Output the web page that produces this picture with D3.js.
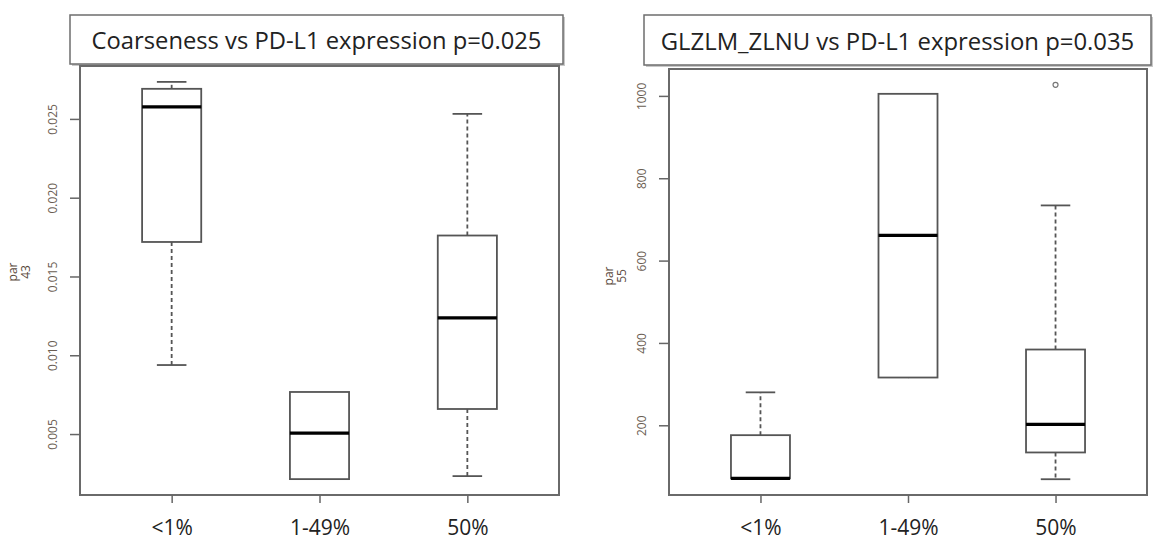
<!DOCTYPE html>
<html lang="en">
<head>
  <meta charset="utf-8">
  <title>PD-L1 boxplots</title>
  <script src="https://d3js.org/d3.v7.min.js"></script>
  <style>
    body { margin: 0; background: #fff; }
    svg { display: block; }
  </style>
</head>
<body>
<script>
// groups along the x axis
var categories = ["<1%", "1-49%", "50%"];

// box stats per group: [lower whisker, Q1, median, Q3, upper whisker]
var coarseStats = [
  [0.00938, 0.01719, 0.02576, 0.02691, 0.02735],
  [0.00214, 0.00214, 0.00506, 0.00767, 0.00767],
  [0.00233, 0.00659, 0.01237, 0.01760, 0.02532]
];
var coarseOutliers = [[], [], []];
var coarseTicks = [0.005, 0.010, 0.015, 0.020, 0.025];

var zlnuStats = [
  [71, 71, 71, 176, 280],
  [316, 316, 661, 1005, 1005],
  [69, 134, 202, 384, 734]
];
var zlnuOutliers = [[], [], [1027]];
var zlnuTicks = [200, 400, 600, 800, 1000];

var svg = d3.select("body").append("svg")
  .attr("width", 1159)
  .attr("height", 544);

function drawPanel(opt) {
  var g = svg.append("g");

  // R style range: data extent padded 4% each side
  var all = [];
  opt.stats.forEach(function(s, i) { all = all.concat(s, opt.outliers[i]); });
  var lo = d3.min(all), hi = d3.max(all), pad = (hi - lo) * 0.04;

  var y = d3.scaleLinear().domain([lo - pad, hi + pad]).range([opt.bottom, opt.top]);
  var x = d3.scaleLinear().domain([0.38, 3.62]).range([opt.left, opt.right]);
  var bw = x(1.4) - x(1);

  // title box with a light shadow
  g.append("rect")
    .attr("x", opt.tbox[0] + 2).attr("y", opt.tbox[1] + 2)
    .attr("width", opt.tbox[2] - opt.tbox[0]).attr("height", opt.tbox[3] - opt.tbox[1])
    .attr("fill", "#c8c8c8");
  g.append("rect")
    .attr("x", opt.tbox[0]).attr("y", opt.tbox[1])
    .attr("width", opt.tbox[2] - opt.tbox[0]).attr("height", opt.tbox[3] - opt.tbox[1])
    .attr("fill", "#fff").attr("stroke", "#6e6e6e").attr("stroke-width", 1.5);
  var title = g.append("text")
    .attr("x", (opt.tbox[0] + opt.tbox[2]) / 2)
    .attr("y", (opt.tbox[1] + opt.tbox[3]) / 2)
    .attr("text-anchor", "middle")
    .attr("dominant-baseline", "central")
    .style("font-family", "'Open Sans', sans-serif")
    .style("font-size", "24px")
    .attr("fill", "#222")
    .text(opt.title);
  var tl = title.node().getComputedTextLength();
  title.style("font-size", (24 * opt.titleWidth / tl) + "px");

  // plot frame
  g.append("rect")
    .attr("x", opt.left).attr("y", opt.top)
    .attr("width", opt.right - opt.left).attr("height", opt.bottom - opt.top)
    .attr("fill", "none").attr("stroke", "#6a6a6a").attr("stroke-width", 2);

  // y axis
  var yAxis = g.append("g")
    .attr("transform", "translate(" + opt.left + ",0)")
    .call(d3.axisLeft(y).tickValues(opt.ticks).tickSize(10).tickFormat(opt.fmt));
  yAxis.select(".domain").remove();
  yAxis.selectAll(".tick line").attr("stroke", "#666").attr("stroke-width", 1.5);
  yAxis.selectAll(".tick text")
    .attr("x", null).attr("dy", null)
    .attr("text-anchor", "middle")
    .attr("transform", "translate(-23,0) rotate(-90)")
    .style("font-family", "'Open Sans', sans-serif")
    .style("font-size", "12px")
    .attr("fill", "#6a5d52");

  // x axis
  var xAxis = g.append("g")
    .attr("transform", "translate(0," + opt.bottom + ")")
    .call(d3.axisBottom(x).tickValues([1, 2, 3]).tickSize(8)
      .tickFormat(function(d) { return categories[d - 1]; }));
  xAxis.select(".domain").remove();
  xAxis.selectAll(".tick line").attr("stroke", "#666").attr("stroke-width", 1.5);
  xAxis.selectAll(".tick text")
    .attr("y", 40).attr("dy", null)
    .style("font-family", "'Open Sans', sans-serif")
    .style("font-size", "21px")
    .attr("fill", "#222");

  // y label "par" / number
  opt.ylab.forEach(function(t, i) {
    g.append("text")
      .attr("transform", "translate(" + (opt.ylabX + i * 13) + "," + opt.ylabY + ") rotate(-90)")
      .attr("text-anchor", "middle")
      .style("font-family", "'Open Sans', sans-serif")
      .style("font-size", "12px")
      .attr("fill", "#5b4a3e")
      .text(t);
  });

  // boxes
  var box = g.selectAll(".box").data(opt.stats).enter().append("g");
  box.append("line") // upper whisker
    .attr("x1", function(d, i) { return x(i + 1); }).attr("x2", function(d, i) { return x(i + 1); })
    .attr("y1", function(d) { return y(d[3]); }).attr("y2", function(d) { return y(d[4]); })
    .attr("stroke", "#555").attr("stroke-width", 1.8).attr("stroke-dasharray", "4,3");
  box.append("line") // lower whisker
    .attr("x1", function(d, i) { return x(i + 1); }).attr("x2", function(d, i) { return x(i + 1); })
    .attr("y1", function(d) { return y(d[1]); }).attr("y2", function(d) { return y(d[0]); })
    .attr("stroke", "#555").attr("stroke-width", 1.8).attr("stroke-dasharray", "4,3");
  [0, 4].forEach(function(k) {
    box.filter(function(d) { return d[k] !== d[k === 0 ? 1 : 3]; })
      .append("line")
      .attr("x1", function(d) { return x(opt.stats.indexOf(d) + 1) - bw / 4; })
      .attr("x2", function(d) { return x(opt.stats.indexOf(d) + 1) + bw / 4; })
      .attr("y1", function(d) { return y(d[k]); }).attr("y2", function(d) { return y(d[k]); })
      .attr("stroke", "#555").attr("stroke-width", 1.8);
  });
  box.append("rect")
    .attr("x", function(d, i) { return x(i + 1) - bw / 2; })
    .attr("y", function(d) { return y(d[3]); })
    .attr("width", bw)
    .attr("height", function(d) { return y(d[1]) - y(d[3]); })
    .attr("fill", "#fff").attr("stroke", "#555").attr("stroke-width", 1.8);
  box.append("line") // median
    .attr("x1", function(d, i) { return x(i + 1) - bw / 2; })
    .attr("x2", function(d, i) { return x(i + 1) + bw / 2; })
    .attr("y1", function(d) { return y(d[2]); }).attr("y2", function(d) { return y(d[2]); })
    .attr("stroke", "#000").attr("stroke-width", 3.2);

  // outliers
  opt.outliers.forEach(function(arr, i) {
    g.selectAll(null).data(arr).enter().append("circle")
      .attr("cx", x(i + 1)).attr("cy", function(d) { return y(d); })
      .attr("r", 2.5).attr("fill", "none").attr("stroke", "#777").attr("stroke-width", 1.2);
  });
}

drawPanel({
  stats: coarseStats, outliers: coarseOutliers, ticks: coarseTicks,
  fmt: d3.format(".3f"),
  left: 80, right: 559, top: 66, bottom: 495,
  tbox: [70, 15, 563, 64], title: "Coarseness vs PD-L1 expression p=0.025", titleWidth: 450,
  ylab: ["par", "43"], ylabX: 17, ylabY: 272
});

drawPanel({
  stats: zlnuStats, outliers: zlnuOutliers, ticks: zlnuTicks,
  fmt: d3.format("d"),
  left: 669, right: 1147, top: 69, bottom: 495,
  tbox: [644, 15, 1151, 65], title: "GLZLM_ZLNU vs PD-L1 expression p=0.035", titleWidth: 474,
  ylab: ["par", "55"], ylabX: 613, ylabY: 276
});
</script>
</body>
</html>
